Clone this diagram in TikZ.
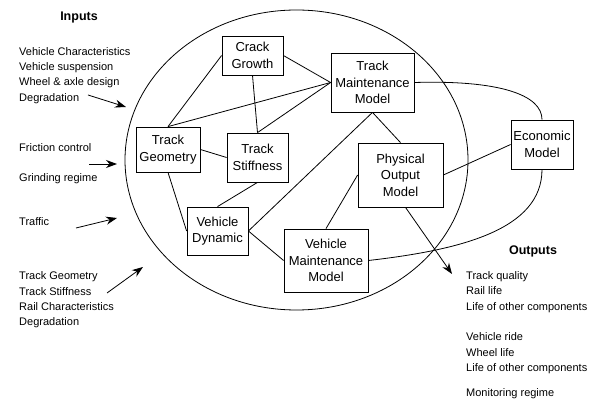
\documentclass[tikz,border=0pt]{standalone}
\usepackage{fontspec}
\setmainfont{Liberation Sans}
\usetikzlibrary{positioning,arrows.meta}

\begin{document}
\begin{tikzpicture}[
  x=1pt, y=-1pt,
  model/.style={rectangle, draw, line width=0.8pt, align=center, inner sep=0pt,
                font=\fontsize{13}{16.5}\selectfont},
  link/.style={line width=0.8pt},
  feed/.style={-{Stealth[length=11pt,width=8pt]}, line width=0.8pt},
  itemlist/.style={align=left, inner sep=0pt, font=\fontsize{11}{15.3}\selectfont},
  heading/.style={inner sep=0pt, font=\fontsize{12.5}{15}\selectfont\bfseries}
]
\useasboundingbox (0,0) rectangle (600,403);

% ====== the system boundary ======
\draw[link] (296.5,160) ellipse [x radius=171.5pt, y radius=150pt];

% ====== models ======
\node[model, minimum width=61pt, minimum height=39pt] (crack) at (252.5,55.5) {Crack\\Growth};
\node[model, minimum width=83pt, minimum height=59pt] (trackmaint) at (372.5,82.5) {Track\\Maintenance\\Model};
\node[model, minimum width=64pt, minimum height=45pt] (geometry) at (168,149.5) {Track\\Geometry};
\node[model, minimum width=61pt, minimum height=49pt] (stiffness) at (257.5,157.5) {Track\\Stiffness};
\node[model, minimum width=61pt, minimum height=48pt] (dynamic) at (217.5,231) {Vehicle\\Dynamic};
\node[model, minimum width=84pt, minimum height=63pt] (vehmaint) at (326,260.5) {Vehicle\\Maintenance\\Model};
\node[model, minimum width=85pt, minimum height=64pt] (physical) at (400.5,175) {Physical\\Output\\Model};
\node[model, minimum width=62pt, minimum height=49pt] (economic) at (542,144.5) {Economic\\Model};

% links between the models
\draw[link] (crack.west) -- (geometry.north);
\draw[link] (crack.east) -- (trackmaint.west);
\draw[link] (crack.south) -- (stiffness.north);
\draw[link] (trackmaint.west) -- (geometry.north);
\draw[link] (trackmaint.west) -- (stiffness.north);
\draw[link] (geometry.east) -- (stiffness.west);
\draw[link] (geometry.south) -- (dynamic.west);
\draw[link] (stiffness.south) -- (dynamic.north);
\draw[link] (trackmaint.south) -- (dynamic.east);
\draw[link] (trackmaint.south) -- (physical.north);
\draw[link] (dynamic.east) -- (vehmaint.west);
\draw[link] (vehmaint.north) -- (physical.west);
\draw[link] (physical.east) -- (economic.west);
\draw[link] (trackmaint.east) .. controls (500,80) and (542,95) .. (economic.north);
\draw[link] (vehmaint.east) .. controls (460,250) and (542,230) .. (economic.south);

% ====== inputs ======
\node[heading] (inputs) at (79,18) {Inputs};
\node[itemlist, anchor=west] (vehin) at (19,75.5)
  {Vehicle Characteristics\\Vehicle suspension\\Wheel \& axle design\\Degradation};
\node[itemlist, anchor=west] (friction) at (19,148) {Friction control};
\node[itemlist, anchor=west] (grinding) at (19,179) {Grinding regime};
\node[itemlist, anchor=west] (traffic) at (19,222) {Traffic};
\node[itemlist, anchor=west] (trackin) at (19,300)
  {Track Geometry\\Track Stiffness\\Rail Characteristics\\Degradation};

\coordinate (vehin-s) at (88,95);     \coordinate (vehin-e) at (126,107);
\coordinate (friction-s) at (89,164); \coordinate (friction-e) at (117,164);
\coordinate (traffic-s) at (76,228);  \coordinate (traffic-e) at (117,218);
\coordinate (trackin-s) at (107,293); \coordinate (trackin-e) at (143,267);
\draw[feed] (vehin-s) -- (vehin-e);
\draw[feed] (friction-s) -- (friction-e);
\draw[feed] (traffic-s) -- (traffic-e);
\draw[feed] (trackin-s) -- (trackin-e);

% ====== outputs ======
\node[heading] (outputs) at (533,251) {Outputs};
\node[itemlist, anchor=west] (trackout) at (466,292)
  {Track quality\\Rail life\\Life of other components};
\node[itemlist, below=20pt of trackout.south west, anchor=north west] (vehout)
  {Vehicle ride\\Wheel life\\Life of other components};
\node[itemlist, below=14pt of vehout.south west, anchor=north west] (monitor)
  {Monitoring regime};

\coordinate (physical-out) at (452,274);
\draw[feed] ([xshift=5pt]physical.south) -- (physical-out);

\end{tikzpicture}
\end{document}
